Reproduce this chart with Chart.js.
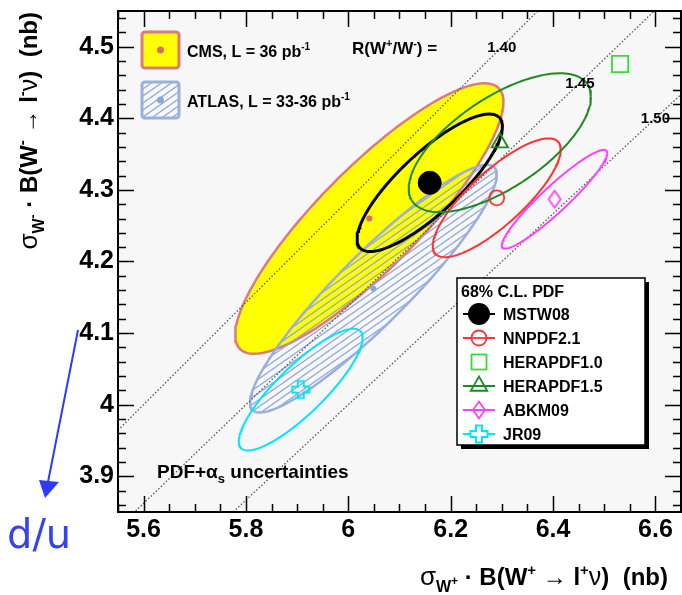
<!DOCTYPE html>
<html><head><meta charset="utf-8">
<script src="https://cdn.jsdelivr.net/npm/chart.js@4/dist/chart.umd.min.js"></script>
<style>html,body{margin:0;padding:0;background:#fff;}#wrap{width:682px;height:595px;}</style>
</head><body><div id="wrap"><canvas id="c" width="682" height="595"></canvas></div>
<script>
// ---------------- data ----------------
const xTickValues = [5.6, 5.8, 6.0, 6.2, 6.4, 6.6];
const xTickLabels = ['5.6', '5.8', '6', '6.2', '6.4', '6.6'];
const yTickValues = [3.9, 4.0, 4.1, 4.2, 4.3, 4.4, 4.5];
const yTickLabels = ['3.9', '4', '4.1', '4.2', '4.3', '4.4', '4.5'];

const expNames = ['CMS', 'ATLAS'];
const expLumi = ['L = 36 pb', 'L = 33-36 pb'];
const expWplus = [6.041, 6.049];
const expWminus = [4.260, 4.162];
const expErrPlus = [0.262, 0.241];
const expErrMinus = [0.189, 0.173];
const expRho = [0.86, 0.92];

const pdfNames = ['MSTW08', 'NNPDF2.1', 'HERAPDF1.0', 'HERAPDF1.5', 'ABKM09', 'JR09'];
const pdfWplus = [6.159, 6.290, 6.531, 6.296, 6.403, 5.907];
const pdfWminus = [4.310, 4.289, 4.476, 4.366, 4.287, 4.021];
const pdfErrPlus = [0.142, 0.125, null, 0.178, 0.103, 0.121];
const pdfErrMinus = [0.096, 0.083, null, 0.097, 0.069, 0.085];
const pdfRho = [0.82, 0.81, null, 0.66, 0.935, 0.85];

const ratioValues = [1.40, 1.45, 1.50];
const ratioLabels = ['1.40', '1.45', '1.50'];
const ratioLabelY = [4.5, 4.45, 4.4];

// ---------------- style ----------------
const FONT = "'Liberation Sans', Arial, 'DejaVu Sans', sans-serif";
const B = px => `bold ${px}px ${FONT}`;
const N = px => `${px}px ${FONT}`;
const pdfColors = ['#000000', '#ff3333', '#33dd33', '#1f8a1f', '#ff40ff', '#00e5ff'];
const expFill = ['#ffff00', null];
const expBorder = ['#db7b7b', '#98afe0'];
const expDot = ['#dd6a6a', '#8aa6e0'];

function ellipse(cx, cy, sx, sy, rho) {
  const pts = [], n = 180, s = Math.sqrt(1 - rho * rho);
  for (let i = 0; i <= n; i++) {
    const t = 2 * Math.PI * i / n;
    pts.push({x: cx + sx * Math.cos(t), y: cy + sy * (rho * Math.cos(t) - s * Math.sin(t))});
  }
  return pts;
}
function makeCanvas(w, h, fn) {
  const c = document.createElement('canvas'); c.width = w; c.height = h;
  fn(c.getContext('2d'), w / 2, h / 2); return c;
}
const hatchTile = makeCanvas(10, 7, g => {
  g.strokeStyle = '#8ea6da'; g.lineWidth = 1.3;
  for (const k of [-1, 0, 1]) { g.beginPath(); g.moveTo(0, 7 + 7 * k); g.lineTo(10, 7 * k); g.stroke(); }
});
const hatch = document.createElement('canvas').getContext('2d').createPattern(hatchTile, 'repeat');
const crossImg = makeCanvas(22, 22, (g, cx, cy) => {
  g.strokeStyle = pdfColors[5]; g.lineWidth = 2;
  const a = 3, b = 8.5;
  const p = [[-a,-b],[a,-b],[a,-a],[b,-a],[b,a],[a,a],[a,b],[-a,b],[-a,a],[-b,a],[-b,-a],[-a,-a]];
  g.beginPath(); p.forEach(([x, y], i) => i ? g.lineTo(cx + x, cy + y) : g.moveTo(cx + x, cy + y));
  g.closePath(); g.stroke();
});
const diamondImg = makeCanvas(18, 22, (g, cx, cy) => {
  g.strokeStyle = pdfColors[4]; g.lineWidth = 1.8;
  g.beginPath(); g.moveTo(cx, cy - 8.5); g.lineTo(cx + 6, cy); g.lineTo(cx, cy + 8.5); g.lineTo(cx - 6, cy); g.closePath(); g.stroke();
});
const pdfMarker = [
  {pointStyle: 'circle', radius: 11.5, bg: '#000', bw: 1},
  {pointStyle: 'circle', radius: 7.5, bg: 'rgba(0,0,0,0)', bw: 1.8},
  {pointStyle: 'rect', radius: 11.5, bg: 'rgba(0,0,0,0)', bw: 1.8},
  {pointStyle: 'triangle', radius: 9.5, bg: 'rgba(0,0,0,0)', bw: 1.8},
  {pointStyle: diamondImg, radius: 9, bg: 'rgba(0,0,0,0)', bw: 1.8},
  {pointStyle: crossImg, radius: 9, bg: 'rgba(0,0,0,0)', bw: 1.8}
];

// ---------------- datasets ----------------
const datasets = [];
expNames.forEach((nm, i) => {
  datasets.push({
    type: 'line', label: nm, order: 100 - i,
    data: ellipse(expWplus[i], expWminus[i], expErrPlus[i], expErrMinus[i], expRho[i]),
    fill: 'shape', backgroundColor: i === 0 ? expFill[0] : hatch,
    borderColor: expBorder[i], borderWidth: 2.5, pointRadius: 0, tension: 0
  });
});
ratioValues.forEach((r, i) => {
  datasets.push({
    type: 'line', label: 'R=' + r, order: 90,
    data: [{x: 5.55, y: 5.55 / r}, {x: 6.65, y: 6.65 / r}],
    borderColor: '#555', borderWidth: 1.3, borderDash: [1.5, 2], pointRadius: 0, fill: false
  });
});
expNames.forEach((nm, i) => {
  datasets.push({
    type: 'scatter', label: nm + ' point', order: 85,
    data: [{x: expWplus[i], y: expWminus[i]}],
    pointRadius: 3, pointBackgroundColor: expDot[i], pointBorderColor: expDot[i], pointBorderWidth: 0
  });
});
pdfNames.forEach((nm, i) => {
  if (pdfErrPlus[i] === null) return;
  datasets.push({
    type: 'line', label: nm + ' ellipse', order: 50 - i,
    data: ellipse(pdfWplus[i], pdfWminus[i], pdfErrPlus[i], pdfErrMinus[i], pdfRho[i]),
    fill: false, borderColor: pdfColors[i], borderWidth: i === 0 ? 3 : 2, pointRadius: 0, tension: 0
  });
});
pdfNames.forEach((nm, i) => {
  const m = pdfMarker[i];
  datasets.push({
    type: 'scatter', label: nm, order: 10 - i,
    data: [{x: pdfWplus[i], y: pdfWminus[i]}],
    pointStyle: m.pointStyle, pointRadius: m.radius, pointBackgroundColor: m.bg,
    pointBorderColor: pdfColors[i], pointBorderWidth: m.bw
  });
});

// ---------------- helpers ----------------
function drawRich(ctx, segs, x, y, align) {
  let w = 0;
  for (const s of segs) { ctx.font = s.f; w += ctx.measureText(s.t).width; }
  let cx = align === 'right' ? x - w : (align === 'center' ? x - w / 2 : x);
  ctx.textAlign = 'left'; ctx.textBaseline = 'alphabetic';
  for (const s of segs) { ctx.font = s.f; ctx.fillText(s.t, cx, y + (s.dy || 0)); cx += ctx.measureText(s.t).width; }
  return w;
}
function titleSegs(sign) {
  return [
    {t: 'σ', f: N(26)}, {t: 'W', f: B(16), dy: 7}, {t: sign, f: B(12), dy: 0},
    {t: ' · B(W', f: B(24)}, {t: sign, f: B(15), dy: -10}, {t: ' ', f: B(24)},
    {t: '→', f: N(24)}, {t: ' l', f: B(24)}, {t: sign, f: B(15), dy: -10},
    {t: 'ν', f: N(25)}, {t: ')  (nb)', f: B(24)}
  ];
}
function legendSymbol(ctx, i, x, y) {
  const col = pdfColors[i];
  ctx.save();
  ctx.strokeStyle = col; ctx.fillStyle = col; ctx.lineWidth = 2;
  if (i !== 2) { ctx.beginPath(); ctx.moveTo(x - 16, y); ctx.lineTo(x + 16, y); ctx.stroke(); }
  ctx.lineWidth = 1.8;
  if (i === 0) { ctx.beginPath(); ctx.arc(x, y, 11, 0, 2 * Math.PI); ctx.fill(); }
  if (i === 1) { ctx.fillStyle = '#fff'; ctx.beginPath(); ctx.arc(x, y, 7.5, 0, 2 * Math.PI); ctx.fill(); ctx.stroke(); ctx.beginPath(); ctx.moveTo(x-7.5,y); ctx.lineTo(x+7.5,y); ctx.stroke(); }
  if (i === 2) { ctx.strokeRect(x - 7.5, y - 7.5, 15, 15); }
  if (i === 3) { const r = 9.5; ctx.fillStyle = '#fff'; ctx.beginPath(); ctx.moveTo(x, y - r);
    ctx.lineTo(x + r * 0.866, y + r / 2); ctx.lineTo(x - r * 0.866, y + r / 2); ctx.closePath(); ctx.fill(); ctx.stroke();
    ctx.beginPath(); ctx.moveTo(x-16,y); ctx.lineTo(x+16,y); ctx.lineWidth = 2; ctx.stroke(); }
  if (i === 4) { ctx.fillStyle = '#fff'; ctx.fillRect(x - 5, y - 6, 10, 12); ctx.drawImage(diamondImg, x - 9, y - 11);
    ctx.beginPath(); ctx.moveTo(x-6,y); ctx.lineTo(x+6,y); ctx.lineWidth = 2; ctx.stroke(); }
  if (i === 5) { ctx.fillStyle = '#fff'; ctx.fillRect(x - 8, y - 3, 16, 6); ctx.fillRect(x - 3, y - 8, 6, 16); ctx.drawImage(crossImg, x - 11, y - 11); }
  ctx.restore();
}

// ---------------- plugins ----------------
const background = {
  id: 'background',
  beforeDraw(chart) {
    const {ctx, chartArea: a} = chart;
    ctx.save(); ctx.fillStyle = '#fff'; ctx.fillRect(0, 0, chart.width, chart.height);
    ctx.fillStyle = '#f7f7f7'; ctx.fillRect(a.left, a.top, a.right - a.left, a.bottom - a.top); ctx.restore();
  }
};
const decor = {
  id: 'decor',
  afterDatasetsDraw(chart) {
    const {ctx, chartArea: a, scales: {x, y}} = chart;
    ctx.save();
    // ratio labels
    ctx.fillStyle = '#000'; ctx.font = B(15); ctx.textAlign = 'center'; ctx.textBaseline = 'middle';
    ratioValues.forEach((r, i) => ctx.fillText(ratioLabels[i], x.getPixelForValue(r * ratioLabelY[i]), y.getPixelForValue(ratioLabelY[i]) + 1));
    drawRich(ctx, [{t: 'R(W', f: B(17)}, {t: '+', f: B(11), dy: -7}, {t: '/W', f: B(17)}, {t: '-', f: B(11), dy: -7}, {t: ') =', f: B(17)}], 352, 54, 'left');
    drawRich(ctx, [{t: 'PDF+α', f: B(19)}, {t: 's', f: B(13), dy: 5}, {t: ' uncertainties', f: B(19)}], 157, 478, 'left');

    // frame & ticks
    ctx.strokeStyle = '#000'; ctx.lineWidth = 1.5;
    const MJ = 16, MN = 8;
    for (let k = Math.ceil(x.min * 20 - 1e-6); k <= Math.floor(x.max * 20 + 1e-6); k++) {
      const px = Math.round(x.getPixelForValue(k / 20)) + 0.5, L = k % 4 === 0 ? MJ : MN;
      ctx.beginPath(); ctx.moveTo(px, a.bottom); ctx.lineTo(px, a.bottom - L); ctx.moveTo(px, a.top); ctx.lineTo(px, a.top + L); ctx.stroke();
    }
    for (let k = Math.ceil(y.min * 50 - 1e-6); k <= Math.floor(y.max * 50 + 1e-6); k++) {
      const py = Math.round(y.getPixelForValue(k / 50)) + 0.5, L = k % 5 === 0 ? MJ : MN;
      ctx.beginPath(); ctx.moveTo(a.left, py); ctx.lineTo(a.left + L, py); ctx.moveTo(a.right, py); ctx.lineTo(a.right - L, py); ctx.stroke();
    }
    ctx.lineWidth = 2;
    ctx.strokeRect(a.left, a.top, a.right - a.left, a.bottom - a.top);

    // experiment legend
    expNames.forEach((nm, i) => {
      const bx = 142, by = 32 + 50 * i;
      ctx.fillStyle = i === 0 ? expFill[0] : hatch;
      ctx.beginPath(); ctx.roundRect(bx, by, 37, 36, 3); ctx.fill();
      ctx.strokeStyle = expBorder[i]; ctx.lineWidth = 3; ctx.stroke();
      ctx.fillStyle = expDot[i]; ctx.beginPath(); ctx.arc(bx + 18.5, by + 18, 3.5, 0, 2 * Math.PI); ctx.fill();
      ctx.fillStyle = '#000';
      drawRich(ctx, [{t: nm + ', ' + expLumi[i], f: B(16)}, {t: '-1', f: B(10), dy: -7}], 187, by + 25, 'left');
    });

    // PDF legend box
    ctx.fillStyle = '#000'; ctx.fillRect(461, 282, 188, 167);
    ctx.fillStyle = '#fff'; ctx.fillRect(457, 278, 188, 167);
    ctx.strokeStyle = '#000'; ctx.lineWidth = 1.5; ctx.strokeRect(457, 278, 188, 167);
    ctx.fillStyle = '#000'; ctx.font = B(16); ctx.textAlign = 'left'; ctx.textBaseline = 'alphabetic';
    ctx.fillText('68% C.L. PDF', 461, 297);
    pdfNames.forEach((nm, i) => {
      const yc = 314 + 24 * i;
      legendSymbol(ctx, i, 479, yc);
      ctx.fillStyle = '#000'; ctx.font = B(16); ctx.fillText(nm, 503, yc + 6);
    });

    // axis titles
    ctx.fillStyle = '#000';
    drawRich(ctx, titleSegs('+'), 668, 585, 'right');
    ctx.save(); ctx.translate(37, 12); ctx.rotate(-Math.PI / 2);
    drawRich(ctx, titleSegs('-'), 0, 0, 'right'); ctx.restore();

    // d/u annotation
    ctx.strokeStyle = '#2b3bff'; ctx.fillStyle = '#2b3bff'; ctx.lineWidth = 2;
    ctx.beginPath(); ctx.moveTo(78, 330); ctx.lineTo(48, 482); ctx.stroke();
    ctx.beginPath(); ctx.moveTo(45, 498); ctx.lineTo(39, 480); ctx.lineTo(59, 482); ctx.closePath(); ctx.fill();
    ctx.fillStyle = '#3344ee'; ctx.font = "40px 'DejaVu Sans'"; ctx.textAlign = 'left';
    ctx.fillText('d/u', 7, 548);
    ctx.restore();
  }
};

new Chart(document.getElementById('c'), {
  type: 'scatter',
  data: {datasets},
  options: {
    responsive: false, devicePixelRatio: 1, animation: false, events: [],
    layout: {autoPadding: false, padding: {top: 11, right: 1, left: 0, bottom: 0}},
    plugins: {legend: {display: false}, tooltip: {enabled: false}},
    scales: {
      x: {
        type: 'linear', position: 'bottom', min: 5.55, max: 6.65,
        grid: {display: false, drawTicks: false}, border: {display: false},
        afterBuildTicks: s => { s.ticks = xTickValues.map(v => ({value: v})); },
        afterFit: s => { s.height = 83; s.paddingLeft = 0; s.paddingRight = 0; },
        ticks: {autoSkip: false, maxRotation: 0, padding: 3, color: '#000', font: {family: FONT, size: 25, weight: 'bold'},
          callback: (v, i) => xTickLabels[i]}
      },
      y: {
        type: 'linear', position: 'left', min: 3.85, max: 4.55,
        grid: {display: false, drawTicks: false}, border: {display: false},
        afterBuildTicks: s => { s.ticks = yTickValues.map(v => ({value: v})); },
        afterFit: s => { s.width = 118; s.paddingTop = 0; s.paddingBottom = 0; },
        ticks: {autoSkip: false, padding: 4, color: '#000', font: {family: FONT, size: 25, weight: 'bold'},
          callback: (v, i) => yTickLabels[i]}
      }
    }
  },
  plugins: [background, decor]
});
</script>
</body></html>
